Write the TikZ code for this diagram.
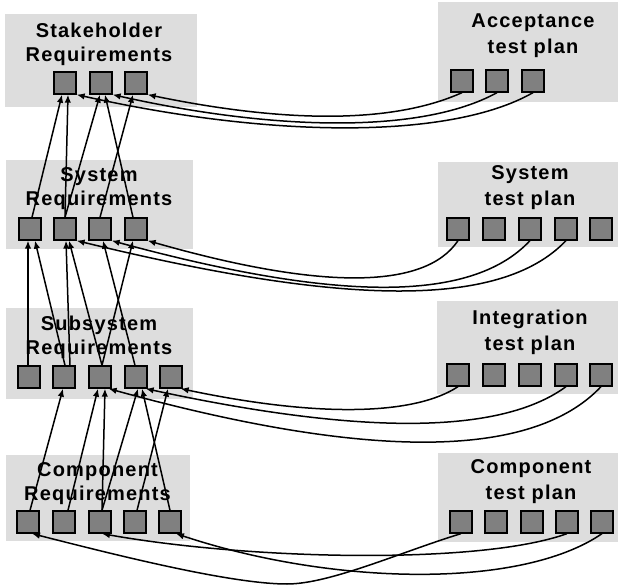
\documentclass[tikz,border=0pt]{standalone}
\usepackage{fontspec}
\setmainfont{Liberation Sans}[LetterSpace=6]
\usetikzlibrary{arrows.meta}
\definecolor{panelgray}{HTML}{DDDDDD}
\definecolor{sqgray}{HTML}{808080}
\begin{document}
\begin{tikzpicture}[x=1pt,y=-1pt,
  panel/.style={fill=panelgray, draw=none, inner sep=0pt},
  sq/.style={draw=black, fill=sqgray, line width=1.3pt, minimum size=22pt, inner sep=0pt},
  ltitle/.style={font=\bfseries\fontsize{20}{24}\selectfont, align=center, inner sep=0pt},
  rtitle/.style={font=\bfseries\fontsize{20}{26}\selectfont, align=center, inner sep=0pt},
  link/.style={line width=1.5pt, -{Latex[length=8pt,width=6.5pt]}}]
\useasboundingbox (0,0) rectangle (619,585);
% panels
\node[panel, minimum width=192pt, minimum height=93pt] (P1) at (101,60.5) {};
\node[panel, minimum width=187pt, minimum height=89pt] (P2) at (99.5,204.5) {};
\node[panel, minimum width=187pt, minimum height=91pt] (P3) at (99.5,353.5) {};
\node[panel, minimum width=184pt, minimum height=86pt] (P4) at (98,498) {};
\node[panel, minimum width=180pt, minimum height=100pt] (PA) at (528,52) {};
\node[panel, minimum width=180pt, minimum height=85pt] (PB) at (528,204.5) {};
\node[panel, minimum width=181pt, minimum height=93pt] (PC) at (527.5,347.5) {};
\node[panel, minimum width=180pt, minimum height=89pt] (PD) at (528,497.5) {};
% titles
\node[ltitle] (T1) at (99,44.5) {Stakeholder\\Requirements};
\node[ltitle] (T2) at (99,189) {System\\Requirements};
\node[ltitle] (T3) at (99,337.5) {Subsystem\\Requirements};
\node[ltitle] (T4) at (97.5,483.5) {Component\\Requirements};
\node[rtitle] (TA) at (533,36) {Acceptance\\test plan};
\node[rtitle] (TB) at (530,188) {System\\test plan};
\node[rtitle] (TC) at (530,332) {Integration\\test plan};
\node[rtitle] (TD) at (531,481.5) {Component\\test plan};
% left squares
\node[sq] (L1a) at (65,83) {};
\node[sq] (L1b) at (101,83) {};
\node[sq] (L1c) at (136,83) {};
\node[sq] (L2a) at (30,229) {};
\node[sq] (L2b) at (65,229) {};
\node[sq] (L2c) at (100,229) {};
\node[sq] (L2d) at (136,229) {};
\node[sq] (L3a) at (29,377) {};
\node[sq] (L3b) at (64,377) {};
\node[sq] (L3c) at (100,377) {};
\node[sq] (L3d) at (136,377) {};
\node[sq] (L3e) at (171,377) {};
\node[sq] (L4a) at (28,522) {};
\node[sq] (L4b) at (64,522) {};
\node[sq] (L4c) at (100,522) {};
\node[sq] (L4d) at (135,522) {};
\node[sq] (L4e) at (170,522) {};
% right squares
\node[sq] (R1a) at (462,81) {};
\node[sq] (R1b) at (497,81) {};
\node[sq] (R1c) at (533,81) {};
\node[sq] (R2a) at (458,229) {};
\node[sq] (R2b) at (494,229) {};
\node[sq] (R2c) at (530,229) {};
\node[sq] (R2d) at (566,229) {};
\node[sq] (R2e) at (601,229) {};
\node[sq] (R3a) at (458,375) {};
\node[sq] (R3b) at (494,375) {};
\node[sq] (R3c) at (530,375) {};
\node[sq] (R3d) at (566,375) {};
\node[sq] (R3e) at (601,375) {};
\node[sq] (R4a) at (461,522) {};
\node[sq] (R4b) at (496,522) {};
\node[sq] (R4c) at (532,522) {};
\node[sq] (R4d) at (567,522) {};
\node[sq] (R4e) at (602,522) {};
% vertical traces level 2 -> 1
\draw[link] ([xshift=2pt]L2a.north) -- ([xshift=-3pt]L1a.south);
\draw[link] (L2b.north) -- ([xshift=3pt]L1a.south);
\draw[link] (L2b.north) -- ([xshift=-1pt]L1b.south);
\draw[link] ([xshift=-3pt]L2d.north) -- ([xshift=4pt]L1b.south);
\draw[link] (L2c.north) -- ([xshift=-3pt]L1c.south);
% level 3 -> 2
\draw[link] ([xshift=-1pt]L3a.north) -- ([xshift=-2pt]L2a.south);
\draw[link] ([xshift=1pt]L3b.north) -- ([xshift=5pt]L2a.south);
\draw[link] ([xshift=6pt]L3b.north) -- ([xshift=1pt]L2b.south);
\draw[link] ([xshift=2pt]L3c.north) -- ([xshift=4pt]L2b.south);
\draw[link] ([xshift=2pt]L3c.north) -- ([xshift=-3pt]L2d.south);
\draw[link] ([xshift=-1pt]L3d.north) -- ([xshift=3pt]L2c.south);
% level 4 -> 3
\draw[link] ([xshift=2pt]L4a.north) -- ([xshift=-1pt]L3b.south);
\draw[link] ([xshift=4pt]L4b.north) -- ([xshift=-2pt]L3c.south);
\draw[link] ([xshift=2pt]L4c.north) -- ([xshift=5pt]L3c.south);
\draw[link] ([xshift=2pt]L4c.north) -- ([xshift=2pt]L3d.south);
\draw[link] ([xshift=2pt]L4d.north) -- ([xshift=-3pt]L3e.south);
\draw[link] (L4e.north) -- ([xshift=6pt]L3d.south);
% test plan traces level 1
\draw[link] (R1a.south) .. controls (390,125) and (280,122) .. (L1c.south east);
\draw[link] (R1b.south) .. controls (420,135) and (270,130) .. (L1b.south east);
\draw[link] (R1c.south) .. controls (450,140) and (270,138) .. (L1a.south east);
% level 2
\draw[link] (R2a.south) .. controls (425,290) and (320,290) .. (L2d.south east);
\draw[link] (R2c.south) .. controls (470,305) and (330,300) .. (L2c.south east);
\draw[link] (R2d.south) .. controls (500,310) and (340,305) .. (L2b.south east);
% level 3
\draw[link] (R3a.south) .. controls (415,415) and (320,418) .. ([xshift=-2pt]L3e.south east);
\draw[link] (R3d.south) .. controls (500,435) and (360,435) .. ([xshift=-2pt]L3d.south east);
\draw[link] (R3e.south) .. controls (530,462) and (360,458) .. ([xshift=-3pt]L3c.south east);
% level 4
\coordinate (bend) at (287,584);
\draw[link] (R4a.south) .. controls (401,552) and (330,584) .. (bend) .. controls (230,584) and (112,554) .. ([xshift=4pt]L4a.south);
\draw[link] (R4d.south) .. controls (480,565) and (250,560) .. ([xshift=2pt]L4c.south);
\draw[link] (R4e.south) .. controls (520,590) and (330,585) .. ([xshift=6pt]L4e.south);
\end{tikzpicture}
\end{document}
